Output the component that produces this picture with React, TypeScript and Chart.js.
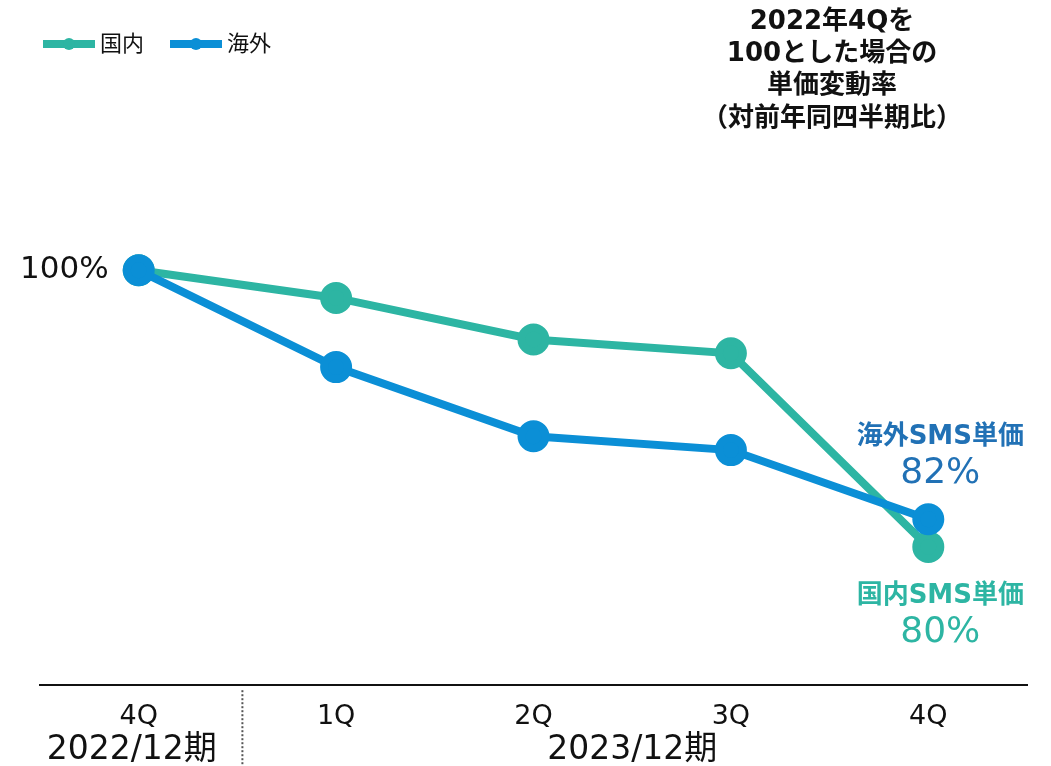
import React, { useEffect, useRef } from "react";
import { Chart, registerables } from "chart.js";

Chart.register(...registerables);

const categories = ["4Q", "1Q", "2Q", "3Q", "4Q"];
const domestic = [100, 98, 95, 94, 80];
const overseas = [100, 93, 88, 87, 82];
const titleLines = ["2022年4Qを", "100とした場合の", "単価変動率", "（対前年同四半期比）"];
const periods = [
  { label: "2022/12期", from: 0, to: 0 },
  { label: "2023/12期", from: 1, to: 4 },
];

const TEAL = "#2db5a3";
const BLUE = "#0b8fd6";
const BLUE_TEXT = "#2171b5";
const FONT = "'DejaVu Sans', 'Noto Sans CJK JP', sans-serif";

const overlay = {
  id: "overlay",
  afterDraw(chart: any) {
    const ctx = chart.ctx as CanvasRenderingContext2D;
    const x = chart.scales.x;
    const y = chart.scales.y;
    ctx.save();
    // legend
    const legend = [
      { label: "国内", color: TEAL, x0: 43 },
      { label: "海外", color: BLUE, x0: 170 },
    ];
    legend.forEach((l) => {
      ctx.strokeStyle = l.color;
      ctx.lineWidth = 8;
      ctx.beginPath();
      ctx.moveTo(l.x0, 44);
      ctx.lineTo(l.x0 + 52, 44);
      ctx.stroke();
      ctx.fillStyle = l.color;
      ctx.beginPath();
      ctx.arc(l.x0 + 26, 44, 6, 0, Math.PI * 2);
      ctx.fill();
      ctx.fillStyle = "#111";
      ctx.font = `22px ${FONT}`;
      ctx.textAlign = "left";
      ctx.textBaseline = "middle";
      ctx.fillText(l.label, l.x0 + 57, 45);
    });
    // title
    ctx.fillStyle = "#111";
    ctx.font = `bold 26px ${FONT}`;
    ctx.textAlign = "center";
    titleLines.forEach((t, i) => ctx.fillText(t, 832, 22 + i * 32.3));
    // 100% label
    const x0 = x.getPixelForValue(0);
    const y100 = y.getPixelForValue(domestic[0]);
    ctx.font = `31px ${FONT}`;
    ctx.textAlign = "right";
    ctx.fillText(`${overseas[0]}%`, x0 - 30, y100);
    // end annotations
    const last = categories.length - 1;
    const xl = x.getPixelForValue(last) + 12;
    const yo = y.getPixelForValue(overseas[last]);
    const yd = y.getPixelForValue(domestic[last]);
    ctx.textAlign = "center";
    ctx.fillStyle = BLUE_TEXT;
    ctx.font = `bold 26px ${FONT}`;
    ctx.fillText("海外SMS単価", xl, yo - 82);
    ctx.font = `36px ${FONT}`;
    ctx.fillText(`${overseas[last]}%`, xl, yo - 46);
    ctx.fillStyle = TEAL;
    ctx.font = `bold 26px ${FONT}`;
    ctx.fillText("国内SMS単価", xl, yd + 49);
    ctx.font = `36px ${FONT}`;
    ctx.fillText(`${domestic[last]}%`, xl, yd + 86);
    // period labels
    ctx.fillStyle = "#111";
    ctx.font = `33px ${FONT}`;
    periods.forEach((p) => {
      const cx = (x.getPixelForValue(p.from) + x.getPixelForValue(p.to)) / 2;
      ctx.fillText(p.label, p.from === 0 ? cx - 7 : cx, 750);
    });
    // dotted divider
    const dx = (x.getPixelForValue(0) + x.getPixelForValue(1)) / 2 + 5;
    ctx.strokeStyle = "#555";
    ctx.lineWidth = 2;
    ctx.setLineDash([2, 2]);
    ctx.beginPath();
    ctx.moveTo(dx, chart.chartArea.bottom + 5);
    ctx.lineTo(dx, 766);
    ctx.stroke();
    ctx.restore();
  },
};

export default function App() {
  const ref = useRef<HTMLCanvasElement>(null);
  useEffect(() => {
    const chart = new Chart(ref.current!, {
      type: "line",
      data: {
        labels: categories,
        datasets: [
          {
            label: "国内",
            data: domestic,
            borderColor: TEAL,
            backgroundColor: TEAL,
            borderWidth: 8,
            pointRadius: 12,
            pointHoverRadius: 12,
            order: 1,
          },
          {
            label: "海外",
            data: overseas,
            borderColor: BLUE,
            backgroundColor: BLUE,
            borderWidth: 8,
            pointRadius: 12,
            pointHoverRadius: 12,
            order: 0,
          },
        ],
      },
      options: {
        animation: false,
        responsive: true,
        maintainAspectRatio: false,
        layout: { padding: { left: 40, right: 24, top: 132, bottom: 16.4 } },
        plugins: { legend: { display: false }, tooltip: { enabled: false } },
        scales: {
          x: {
            offset: true,
            grid: { display: false, drawTicks: false },
            border: { display: true, color: "#111", width: 2 },
            ticks: { color: "#111", padding: 16, font: { size: 27, family: FONT } },
          },
          y: { display: false, min: 70, max: 110 },
        },
      },
      plugins: [overlay],
    });
    return () => chart.destroy();
  }, []);
  return (
    <div style={{ position: "fixed", left: 0, top: 0, width: 1051, height: 766, background: "#fff" }}>
      <canvas ref={ref} />
    </div>
  );
}
